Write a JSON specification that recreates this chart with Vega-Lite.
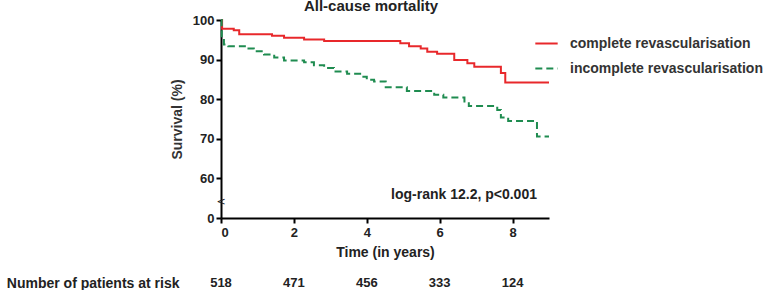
{
  "$schema": "https://vega.github.io/schema/vega-lite/v6.json",
  "padding": {"left": 6, "top": -1, "right": 0, "bottom": 0},
  "spacing": 17,
  "config": {
    "view": {"stroke": null},
    "font": "Liberation Sans",
    "axis": {"labelFont": "Liberation Sans", "titleFont": "Liberation Sans"}
  },
  "datasets": {
    "km": [
      {"group": "complete revascularisation", "t": 0, "s": 100},
      {"group": "complete revascularisation", "t": 0.03, "s": 97.8},
      {"group": "complete revascularisation", "t": 0.35, "s": 97.4},
      {"group": "complete revascularisation", "t": 0.5, "s": 96.4},
      {"group": "complete revascularisation", "t": 1.4, "s": 96.0},
      {"group": "complete revascularisation", "t": 1.73, "s": 95.5},
      {"group": "complete revascularisation", "t": 2.28, "s": 95.1},
      {"group": "complete revascularisation", "t": 2.83, "s": 94.7},
      {"group": "complete revascularisation", "t": 4.92, "s": 94.1},
      {"group": "complete revascularisation", "t": 5.16, "s": 93.4},
      {"group": "complete revascularisation", "t": 5.48, "s": 92.8},
      {"group": "complete revascularisation", "t": 5.66, "s": 92.0},
      {"group": "complete revascularisation", "t": 5.93, "s": 91.5},
      {"group": "complete revascularisation", "t": 6.4, "s": 89.9},
      {"group": "complete revascularisation", "t": 6.76, "s": 89.1},
      {"group": "complete revascularisation", "t": 6.95, "s": 88.2},
      {"group": "complete revascularisation", "t": 7.68, "s": 86.6},
      {"group": "complete revascularisation", "t": 7.8, "s": 84.2},
      {"group": "complete revascularisation", "t": 9.0, "s": 84.2},
      {"group": "incomplete revascularisation", "t": 0, "s": 100},
      {"group": "incomplete revascularisation", "t": 0.02, "s": 95.5},
      {"group": "incomplete revascularisation", "t": 0.08, "s": 93.8},
      {"group": "incomplete revascularisation", "t": 0.2, "s": 93.4},
      {"group": "incomplete revascularisation", "t": 0.72, "s": 92.8},
      {"group": "incomplete revascularisation", "t": 0.9, "s": 92.1},
      {"group": "incomplete revascularisation", "t": 1.18, "s": 91.3},
      {"group": "incomplete revascularisation", "t": 1.46, "s": 90.5},
      {"group": "incomplete revascularisation", "t": 1.73, "s": 89.8},
      {"group": "incomplete revascularisation", "t": 2.28, "s": 89.3},
      {"group": "incomplete revascularisation", "t": 2.55, "s": 88.6},
      {"group": "incomplete revascularisation", "t": 2.83, "s": 87.9},
      {"group": "incomplete revascularisation", "t": 3.1, "s": 87.0},
      {"group": "incomplete revascularisation", "t": 3.46, "s": 86.4},
      {"group": "incomplete revascularisation", "t": 3.85, "s": 85.7},
      {"group": "incomplete revascularisation", "t": 4.0, "s": 84.9},
      {"group": "incomplete revascularisation", "t": 4.2, "s": 84.5},
      {"group": "incomplete revascularisation", "t": 4.52, "s": 83.0},
      {"group": "incomplete revascularisation", "t": 5.1, "s": 82.1},
      {"group": "incomplete revascularisation", "t": 5.85, "s": 81.1},
      {"group": "incomplete revascularisation", "t": 6.1, "s": 80.4},
      {"group": "incomplete revascularisation", "t": 6.68, "s": 79.4},
      {"group": "incomplete revascularisation", "t": 6.8, "s": 78.3},
      {"group": "incomplete revascularisation", "t": 7.58, "s": 77.3},
      {"group": "incomplete revascularisation", "t": 7.68, "s": 75.4},
      {"group": "incomplete revascularisation", "t": 7.88, "s": 74.5},
      {"group": "incomplete revascularisation", "t": 8.67, "s": 70.6},
      {"group": "incomplete revascularisation", "t": 9.0, "s": 70.6}
    ],
    "notes": [
      {"t": 8.67, "s": 55.8, "label": "log-rank 12.2, p<0.001"}
    ],
    "brk": [
      {"t": 0, "s": 54, "label": "<"}
    ],
    "risk": [
      {"row": "Number of patients at risk", "t": 0, "n": 518},
      {"row": "Number of patients at risk", "t": 2, "n": 471},
      {"row": "Number of patients at risk", "t": 4, "n": 456},
      {"row": "Number of patients at risk", "t": 6, "n": 333},
      {"row": "Number of patients at risk", "t": 8, "n": 124}
    ]
  },
  "vconcat": [
    {
      "width": 328,
      "height": 198,
      "title": {
        "text": "All-cause mortality",
        "font": "Liberation Sans",
        "fontSize": 15,
        "fontWeight": "bold",
        "color": "#222",
        "offset": 0,
        "dx": -14
      },
      "encoding": {
        "x": {
          "field": "t", "type": "quantitative",
          "scale": {"domain": [0, 9], "nice": false},
          "axis": {
            "values": [0, 2, 4, 6, 8],
            "grid": false,
            "labelOverlap": false,
            "domainColor": "#000", "domainWidth": 2,
            "tickColor": "#000", "tickWidth": 2, "tickSize": 5,
            "labelFontSize": 13, "labelFontWeight": "bold", "labelColor": "#222",
            "labelPadding": 3,
            "title": "Time (in years)",
            "titleFontSize": 14, "titleFontWeight": "bold", "titleColor": "#222",
            "titlePadding": 6
          }
        },
        "y": {
          "field": "s", "type": "quantitative",
          "scale": {"domain": [50, 100], "nice": false, "zero": false},
          "axis": {
            "values": [50, 60, 70, 80, 90, 100],
            "labelExpr": "datum.value == 50 ? '0' : datum.label",
            "labelOverlap": false,
            "grid": false,
            "domainColor": "#000", "domainWidth": 2,
            "tickColor": "#000", "tickWidth": 2, "tickSize": 5,
            "labelFontSize": 13, "labelFontWeight": "bold", "labelColor": "#222",
            "labelPadding": 2,
            "title": "Survival (%)",
            "titleFontSize": 14, "titleFontWeight": "bold", "titleColor": "#333",
            "titlePadding": 8
          }
        }
      },
      "layer": [
        {
          "data": {"name": "km"},
          "mark": {"type": "line", "interpolate": "step-after", "strokeWidth": 2},
          "encoding": {
            "color": {
              "field": "group", "type": "nominal",
              "scale": {
                "domain": ["complete revascularisation", "incomplete revascularisation"],
                "range": ["#e8282b", "#1f8c50"]
              },
              "legend": {
                "title": null,
                "orient": "none",
                "legendX": 313,
                "legendY": 11,
                "padding": 0,
                "symbolType": "stroke",
                "symbolSize": 500,
                "symbolStrokeWidth": 2,
                "labelFont": "Liberation Sans",
                "labelFontSize": 14,
                "labelFontWeight": "bold",
                "labelColor": "#333",
                "labelOffset": 11,
                "rowPadding": 5,
                "labelLimit": 300
              }
            },
            "strokeDash": {
              "field": "group", "type": "nominal",
              "scale": {
                "domain": ["complete revascularisation", "incomplete revascularisation"],
                "range": [[1, 0], [7, 4]]
              },
              "legend": {
                "title": null,
                "orient": "none",
                "legendX": 313,
                "legendY": 11,
                "padding": 0,
                "symbolType": "stroke",
                "symbolSize": 500,
                "symbolStrokeWidth": 2,
                "labelFont": "Liberation Sans",
                "labelFontSize": 14,
                "labelFontWeight": "bold",
                "labelColor": "#333",
                "labelOffset": 11,
                "rowPadding": 5,
                "labelLimit": 300
              }
            }
          }
        },
        {
          "data": {"name": "notes"},
          "mark": {"type": "text", "align": "right", "baseline": "middle", "font": "Liberation Sans", "fontSize": 14, "fontWeight": "bold", "color": "#222"},
          "encoding": {
            "text": {"field": "label"}
          }
        },
        {
          "data": {"name": "brk"},
          "mark": {"type": "text", "align": "center", "baseline": "middle", "font": "DejaVu Sans", "fontSize": 11, "color": "#222"},
          "encoding": {
            "text": {"field": "label"}
          }
        }
      ]
    },
    {
      "width": 328,
      "height": 14,
      "data": {"name": "risk"},
      "mark": {"type": "text", "align": "center", "baseline": "middle", "font": "Liberation Sans", "fontSize": 13, "fontWeight": "bold", "color": "#222"},
      "encoding": {
        "x": {"field": "t", "type": "quantitative", "scale": {"domain": [0, 9], "nice": false}, "axis": null},
        "y": {
          "field": "row", "type": "nominal",
          "axis": {
            "title": null, "domain": false, "ticks": false,
            "labelFont": "Liberation Sans", "labelFontSize": 14, "labelFontWeight": "bold",
            "labelColor": "#222", "labelPadding": 42, "labelLimit": 300
          }
        },
        "text": {"field": "n", "type": "quantitative"}
      }
    }
  ]
}
